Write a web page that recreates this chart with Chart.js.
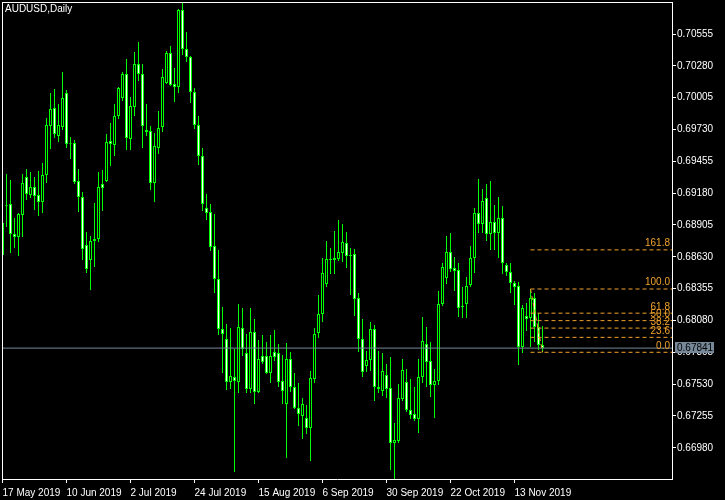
<!DOCTYPE html>
<html>
<head>
<meta charset="utf-8">
<script src="https://cdn.jsdelivr.net/npm/chart.js@4.4.1/dist/chart.umd.min.js"></script>
<style>
  html, body { margin: 0; padding: 0; background: #000; }
  canvas { display: block; }
</style>
</head>
<body>
<canvas id="chart" width="725" height="500"></canvas>
<script>
const symbol = "AUDUSD,Daily";

// bar index of each date label on the time axis
const dateTicks = [0, 16, 32, 48, 64, 80, 96, 112, 128];
const dateLabels = ["17 May 2019", "10 Jun 2019", "2 Jul 2019", "24 Jul 2019", "15 Aug 2019",
  "6 Sep 2019", "30 Sep 2019", "22 Oct 2019", "13 Nov 2019"];

const priceTicks = [0.66980, 0.67255, 0.67530, 0.67805, 0.68080, 0.68355, 0.68630,
  0.68905, 0.69180, 0.69455, 0.69730, 0.70005, 0.70280, 0.70555];

/* DAILY OHLC, 17 May 2019 .. 22 Nov 2019 */
const open = [
  0.68922, 0.69069, 0.69086, 0.68827, 0.68801, 0.68991, 0.69320, 0.69164, 0.69233, 0.69164,
  0.69104, 0.69337, 0.69760, 0.69916, 0.69674, 0.69752, 0.70046, 0.69605, 0.69613, 0.69285,
  0.69147, 0.68732, 0.68603, 0.68767, 0.68784, 0.69259, 0.69285, 0.69631, 0.69596, 0.69847,
  0.70002, 0.70210, 0.69648, 0.69925, 0.70296, 0.70210, 0.69726, 0.69717, 0.69268, 0.69570,
  0.69752, 0.70132, 0.70391, 0.70123, 0.70097, 0.70763, 0.70426, 0.70357, 0.70054, 0.69769,
  0.69501, 0.69052, 0.69017, 0.68724, 0.68438, 0.68006, 0.67920, 0.67549, 0.67592, 0.67549,
  0.68015, 0.67799, 0.67488, 0.67981, 0.67462, 0.67773, 0.67773, 0.67626, 0.67808, 0.67799,
  0.67557, 0.67358, 0.67747, 0.67505, 0.67324, 0.67255, 0.67237, 0.67151, 0.67574, 0.67972,
  0.68136, 0.68395, 0.68611, 0.68603, 0.68611, 0.68663, 0.68749, 0.68646, 0.68654, 0.68274,
  0.67920, 0.67687, 0.67739, 0.68006, 0.67505, 0.67471, 0.67609, 0.67497, 0.67021, 0.67039,
  0.67402, 0.67549, 0.67307, 0.67272, 0.67229, 0.67592, 0.67877, 0.67730, 0.67523, 0.67557,
  0.68222, 0.68447, 0.68672, 0.68533, 0.68516, 0.68205, 0.68222, 0.68387, 0.68620, 0.69009,
  0.68914, 0.69138, 0.68827, 0.68931, 0.68836, 0.68965, 0.68559, 0.68499, 0.68404, 0.68378,
  0.67851, 0.68119, 0.68101, 0.68274, 0.68024, 0.67868
];
const high = [
  0.68948, 0.69346, 0.69294, 0.68965, 0.69009, 0.69346, 0.69389, 0.69363, 0.69320, 0.69372,
  0.69441, 0.69830, 0.70046, 0.70080, 0.69950, 0.70227, 0.70071, 0.69665, 0.69639, 0.69389,
  0.69190, 0.68845, 0.68810, 0.69095, 0.69363, 0.69380, 0.69691, 0.69786, 0.69950, 0.70097,
  0.70227, 0.70339, 0.70011, 0.70400, 0.70486, 0.70296, 0.69950, 0.69760, 0.69700, 0.69890,
  0.70253, 0.70408, 0.70452, 0.70261, 0.70771, 0.70823, 0.70573, 0.70365, 0.70089, 0.69847,
  0.69570, 0.69173, 0.69086, 0.69000, 0.68689, 0.68197, 0.68050, 0.68015, 0.67834, 0.68222,
  0.68188, 0.67963, 0.68188, 0.68093, 0.67911, 0.67955, 0.67894, 0.67955, 0.67998, 0.67877,
  0.67782, 0.67885, 0.67808, 0.67626, 0.67540, 0.67410, 0.67350, 0.67644, 0.68015, 0.68300,
  0.68620, 0.68767, 0.68706, 0.68853, 0.68948, 0.68914, 0.68845, 0.68706, 0.68698, 0.68317,
  0.68093, 0.67816, 0.68067, 0.68041, 0.67816, 0.67799, 0.67704, 0.67765, 0.67194, 0.67531,
  0.67747, 0.67661, 0.67574, 0.67505, 0.67747, 0.68110, 0.68024, 0.67894, 0.67661, 0.68335,
  0.68577, 0.68810, 0.68836, 0.68629, 0.68577, 0.68369, 0.68456, 0.68724, 0.69052, 0.69302,
  0.69216, 0.69259, 0.69285, 0.69078, 0.69147, 0.69069, 0.68577, 0.68577, 0.68421, 0.68413,
  0.68214, 0.68231, 0.68352, 0.68317, 0.68145, 0.68032
];
const low = [
  0.68620, 0.68888, 0.68663, 0.68706, 0.68637, 0.68801, 0.69121, 0.69138, 0.69035, 0.68983,
  0.69009, 0.69268, 0.69562, 0.69657, 0.69622, 0.69726, 0.69570, 0.69475, 0.69259, 0.69017,
  0.68603, 0.68490, 0.68343, 0.68542, 0.68758, 0.69026, 0.69277, 0.69415, 0.69501, 0.69821,
  0.69976, 0.69553, 0.69553, 0.69847, 0.70149, 0.69570, 0.69674, 0.69207, 0.69104, 0.69518,
  0.69709, 0.70123, 0.70106, 0.69968, 0.70046, 0.70374, 0.70313, 0.69959, 0.69734, 0.69423,
  0.69026, 0.68948, 0.68680, 0.68317, 0.67955, 0.67626, 0.67479, 0.67488, 0.66771, 0.67453,
  0.67773, 0.67453, 0.67453, 0.67358, 0.67453, 0.67704, 0.67618, 0.67540, 0.67730, 0.67505,
  0.67358, 0.66892, 0.67462, 0.67315, 0.67168, 0.67056, 0.67099, 0.66866, 0.67540, 0.67929,
  0.68067, 0.68369, 0.68482, 0.68482, 0.68594, 0.68585, 0.68533, 0.68300, 0.68119, 0.67808,
  0.67592, 0.67635, 0.67644, 0.67384, 0.67453, 0.67428, 0.67410, 0.66788, 0.66705, 0.67021,
  0.67384, 0.67289, 0.67229, 0.67212, 0.67108, 0.67540, 0.67505, 0.67419, 0.67237, 0.67523,
  0.68205, 0.68395, 0.68499, 0.68335, 0.68110, 0.68101, 0.68101, 0.68369, 0.68490, 0.68836,
  0.68836, 0.68767, 0.68689, 0.68689, 0.68620, 0.68482, 0.68464, 0.68317, 0.68214, 0.67695,
  0.67799, 0.67989, 0.67851, 0.67894, 0.67825, 0.67805
];
const close = [
  0.68646, 0.69066, 0.68827, 0.68801, 0.69000, 0.69268, 0.69173, 0.69233, 0.69156, 0.69104,
  0.69337, 0.69769, 0.69907, 0.69691, 0.69769, 0.70002, 0.69605, 0.69602, 0.69277, 0.69147,
  0.68698, 0.68525, 0.68767, 0.68784, 0.69233, 0.69225, 0.69622, 0.69605, 0.69847, 0.70089,
  0.70210, 0.69657, 0.69933, 0.70296, 0.70210, 0.69760, 0.69709, 0.69268, 0.69588, 0.69743,
  0.70184, 0.70391, 0.70115, 0.70097, 0.70763, 0.70426, 0.70357, 0.70054, 0.69769, 0.69501,
  0.69086, 0.69009, 0.68715, 0.68438, 0.68006, 0.67963, 0.67549, 0.67600, 0.67557, 0.68024,
  0.67834, 0.67488, 0.67981, 0.67462, 0.67747, 0.67721, 0.67626, 0.67773, 0.67765, 0.67549,
  0.67471, 0.67747, 0.67505, 0.67324, 0.67272, 0.67358, 0.67151, 0.67583, 0.67963, 0.68136,
  0.68490, 0.68611, 0.68603, 0.68620, 0.68672, 0.68758, 0.68637, 0.68637, 0.68266, 0.67920,
  0.67635, 0.67739, 0.68006, 0.67505, 0.67488, 0.67644, 0.67488, 0.67021, 0.67047, 0.67410,
  0.67652, 0.67307, 0.67263, 0.67229, 0.67592, 0.67903, 0.67721, 0.67523, 0.67557, 0.68222,
  0.68542, 0.68672, 0.68525, 0.68508, 0.68188, 0.68197, 0.68378, 0.68620, 0.69009, 0.68914,
  0.69112, 0.68827, 0.68931, 0.68836, 0.68965, 0.68577, 0.68499, 0.68404, 0.68369, 0.67851,
  0.68188, 0.68093, 0.68274, 0.68024, 0.67868, 0.67841
];

const bid = 0.67841;

// fibonacci drawn from the high of bar 132 down to the low of bar 135
const fibFrom = 132;
const fibTo = 135;
const fibLevels = [0, 23.6, 38.2, 50, 61.8, 100, 161.8];

/* LOOK */
const GREEN = "#00ff00";
const FIB = "#f0a22c";
const BIDC = "#778899";
const xMin = -0.125, xMax = 167.375;
const yMin = 0.66710, yMax = 0.70832;

Chart.defaults.font.family = "'Liberation Sans', Arial, sans-serif";
Chart.defaults.font.size = 10;
Chart.defaults.color = "#ffffff";

const fibHigh = high[fibFrom];
const fibLow = low[fibTo];
const fibPrice = r => fibLow + (fibHigh - fibLow) * r / 100;

let datasets = [];

// fib levels + trend line
fibLevels.forEach(r => {
  datasets.push({
    type: "line",
    data: [{x: fibFrom, y: fibPrice(r)}, {x: xMax, y: fibPrice(r)}],
    borderColor: FIB, borderWidth: 1, borderDash: [4, 3],
    pointRadius: 0, order: 0
  });
});
datasets.push({
  type: "line",
  data: [{x: fibFrom, y: fibHigh}, {x: fibTo, y: fibLow}],
  borderColor: FIB, borderWidth: 1, borderDash: [4, 3],
  pointRadius: 0, order: 0
});

// bid line
datasets.push({
  type: "line",
  data: [{x: xMin, y: bid}, {x: xMax, y: bid}],
  borderColor: BIDC, borderWidth: 1,
  pointRadius: 0, order: 1
});

// candle bodies
datasets.push({
  type: "bar",
  data: open.map((o, i) => ({x: i, y: [o, close[i]]})),
  backgroundColor: open.map((o, i) => close[i] < o ? "#ffffff" : "#000000"),
  borderColor: GREEN, borderWidth: 1, borderSkipped: false,
  barThickness: 3, minBarLength: 1, inflateAmount: 0, grouped: false,
  order: 2
});

// wicks
datasets.push({
  type: "bar",
  data: low.map((l, i) => ({x: i, y: [l, high[i]]})),
  backgroundColor: GREEN, borderWidth: 0,
  barThickness: 1, inflateAmount: 0, grouped: false,
  order: 3
});

/* TEXT ON THE CHART */
const decor = {
  id: "decor",
  afterDraw(c){
    const ctx = c.ctx;
    const a = c.chartArea;
    const ys = c.scales.y;
    ctx.save();

    // frame top and left
    ctx.strokeStyle = "#ffffff";
    ctx.lineWidth = 1;
    ctx.beginPath();
    ctx.moveTo(a.left, a.top + 0.5);
    ctx.lineTo(a.right, a.top + 0.5);
    ctx.moveTo(a.left + 0.5, a.top);
    ctx.lineTo(a.left + 0.5, a.bottom);
    ctx.stroke();

    ctx.font = "10px 'Liberation Sans', Arial, sans-serif";

    // title
    ctx.fillStyle = "#ffffff";
    ctx.textAlign = "left";
    ctx.textBaseline = "top";
    ctx.fillText(symbol, 5, 4);

    // fib labels
    ctx.fillStyle = FIB;
    ctx.textAlign = "right";
    ctx.textBaseline = "alphabetic";
    fibLevels.forEach(r => {
      ctx.fillText(r.toFixed(1), a.right - 2, ys.getPixelForValue(fibPrice(r)) - 3.5);
    });

    // bid box
    const yb = Math.round(ys.getPixelForValue(bid));
    ctx.fillStyle = BIDC;
    ctx.fillRect(a.right + 3, yb - 6, 39, 11);
    ctx.fillStyle = "#000000";
    ctx.textAlign = "left";
    ctx.textBaseline = "middle";
    ctx.fillText(bid.toFixed(5), a.right + 5, yb);

    ctx.restore();
  }
};

/* CHART */
new Chart(document.getElementById("chart"), {
  type: "bar",
  data: { datasets },
  options: {
    responsive: false,
    animation: false,
    devicePixelRatio: 1,
    layout: { padding: { left: 2, top: 2, right: 0, bottom: 0 } },
    plugins: { legend: { display: false }, tooltip: { enabled: false } },
    scales: {
      x: {
        type: "linear",
        min: xMin, max: xMax,
        offset: false,
        grid: { display: true, drawOnChartArea: false, color: "#ffffff", tickLength: 4, offset: false },
        border: { color: "#ffffff" },
        ticks: {
          align: "start", autoSkip: false, maxRotation: 0, padding: 4, color: "#ffffff",
          callback: (v, i) => dateLabels[i]
        },
        afterBuildTicks: s => { s.ticks = dateTicks.map(v => ({value: v})); },
        afterFit: s => { s.height = 21; s.paddingLeft = 0; s.paddingRight = 0; }
      },
      y: {
        type: "linear",
        position: "right",
        min: yMin, max: yMax,
        beginAtZero: false,
        grid: { display: true, drawOnChartArea: false, color: "#ffffff", tickLength: 4 },
        border: { color: "#ffffff" },
        ticks: { padding: 1, color: "#ffffff", autoSkip: false, callback: v => v.toFixed(5) },
        afterBuildTicks: s => { s.ticks = priceTicks.map(v => ({value: v})); },
        afterFit: s => { s.width = 53; s.paddingTop = 0; s.paddingBottom = 0; }
      }
    }
  },
  plugins: [decor]
});
</script>
</body>
</html>
